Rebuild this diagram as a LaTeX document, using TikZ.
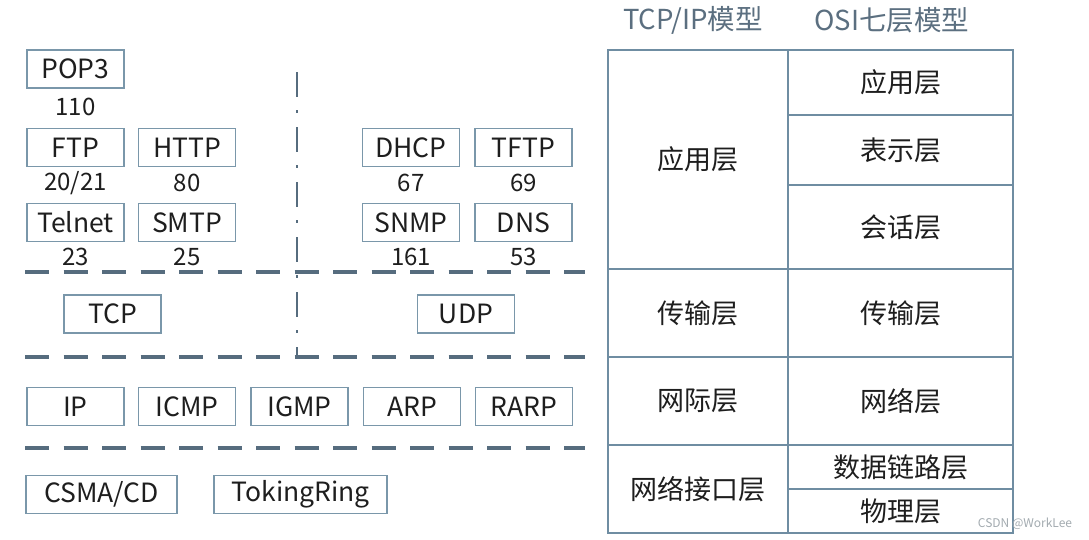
\documentclass[tikz,border=0pt]{standalone}
\usepackage{fontspec}
\setmainfont{Noto Sans CJK SC}
\definecolor{boxline}{HTML}{7A97AA}
\definecolor{dashline}{HTML}{566C7E}
\definecolor{tabline}{HTML}{6F8DA2}
\definecolor{txt}{HTML}{1E1E1E}
\definecolor{head}{HTML}{5B6F80}
\definecolor{wm}{HTML}{A3ABB0}
\begin{document}
\begin{tikzpicture}[x=1pt,y=-1pt,
  proto/.style={draw=boxline,line width=1.3pt,minimum width=97pt,minimum height=38pt,inner sep=0pt,text=txt,font=\fontsize{26.5}{30}\selectfont},
  port/.style={text=txt,inner sep=0pt,font=\fontsize{24}{27}\selectfont},
  sep/.style={draw=dashline,line width=3.8pt,dash pattern=on 24pt off 14.5pt},
  vsep/.style={draw=dashline,line width=2.4pt,dash pattern=on 25pt off 13pt on 3pt off 14pt},
  cell/.style={draw=tabline,line width=1.3pt,inner sep=0pt,text=txt,font=\fontsize{27}{30}\selectfont},
  lcell/.style={cell,minimum width=180pt},
  rcell/.style={cell,minimum width=225pt},
  header/.style={text=head,inner sep=0pt,font=\fontsize{27.5}{30}\selectfont}]
\useasboundingbox[fill=white] (0,0) rectangle (1089,539);

% separators
\coordinate (v1) at (297,72);
\coordinate (v2) at (297,357);
\draw[vsep] (v1) -- (v2);
\coordinate (h1a) at (25,272); \coordinate (h1b) at (585,272);
\coordinate (h2a) at (25,357); \coordinate (h2b) at (585,357);
\coordinate (h3a) at (25,448); \coordinate (h3b) at (585,448);
\draw[sep] (h1a) -- (h1b);
\draw[sep] (h2a) -- (h2b);
\draw[sep] (h3a) -- (h3b);

% application protocols
\node[proto] (pop3) at (75.5,69) {POP3};
\node[port] (p110) at (75.5,107) {110};
\node[proto] (ftp) at (75.5,147.5) {FTP};
\node[proto] (http) at (187,147.5) {HTTP};
\node[port] (p2021) at (75.5,183) {20/21};
\node[port] (p80) at (187,183) {80};
\node[proto] (telnet) at (75.5,222.5) {Telnet};
\node[proto] (smtp) at (187,222.5) {SMTP};
\node[port] (p23) at (75.5,257) {23};
\node[port] (p25) at (187,257) {25};
\node[proto] (dhcp) at (411,147.5) {DHCP};
\node[proto] (tftp) at (523.5,147.5) {TFTP};
\node[port] (p67) at (411,183) {67};
\node[port] (p69) at (523.5,183) {69};
\node[proto] (snmp) at (411,222.5) {SNMP};
\node[proto] (dns) at (523.5,222.5) {DNS};
\node[port] (p161) at (411,257) {161};
\node[port] (p53) at (523.5,257) {53};

% transport
\node[proto] (tcp) at (112.5,314) {TCP};
\node[proto] (udp) at (466,314) {UDP};

% network
\node[proto] (ip) at (75.5,406.5) {IP};
\node[proto] (icmp) at (187,406.5) {ICMP};
\node[proto] (igmp) at (299.5,406.5) {IGMP};
\node[proto] (arp) at (412,406.5) {ARP};
\node[proto] (rarp) at (524,406.5) {RARP};

% link
\node[proto,minimum width=151pt] (csma) at (101.5,494.5) {CSMA/CD};
\node[proto,minimum width=173pt] (token) at (300.5,494.5) {TokingRing};

% headers
\node[header] (h1) at (693,20) {TCP/IP模型};
\node[header] (h2) at (892,20) {OSI七层模型};

% TCP/IP column
\node[lcell,minimum height=219pt] (l1) at (698,159.5) {应用层};
\node[lcell,minimum height=88pt] (l2) at (698,313) {传输层};
\node[lcell,minimum height=88pt] (l3) at (698,401) {网际层};
\node[lcell,minimum height=88pt] (l4) at (698,489) {网络接口层};

% OSI column
\node[rcell,minimum height=65pt] (r1) at (900.5,82.5) {应用层};
\node[rcell,minimum height=70pt] (r2) at (900.5,150) {表示层};
\node[rcell,minimum height=84pt] (r3) at (900.5,227) {会话层};
\node[rcell,minimum height=88pt] (r4) at (900.5,313) {传输层};
\node[rcell,minimum height=88pt] (r5) at (900.5,401) {网络层};
\node[rcell,minimum height=44pt] (r6) at (900.5,467) {数据链路层};
\node[rcell,minimum height=44pt] (r7) at (900.5,511) {物理层};

% watermark
\node[text=wm,inner sep=0pt,font=\fontsize{12}{14}\selectfont] (wmk) at (1025,524) {CSDN @WorkLee};
\end{tikzpicture}
\end{document}
